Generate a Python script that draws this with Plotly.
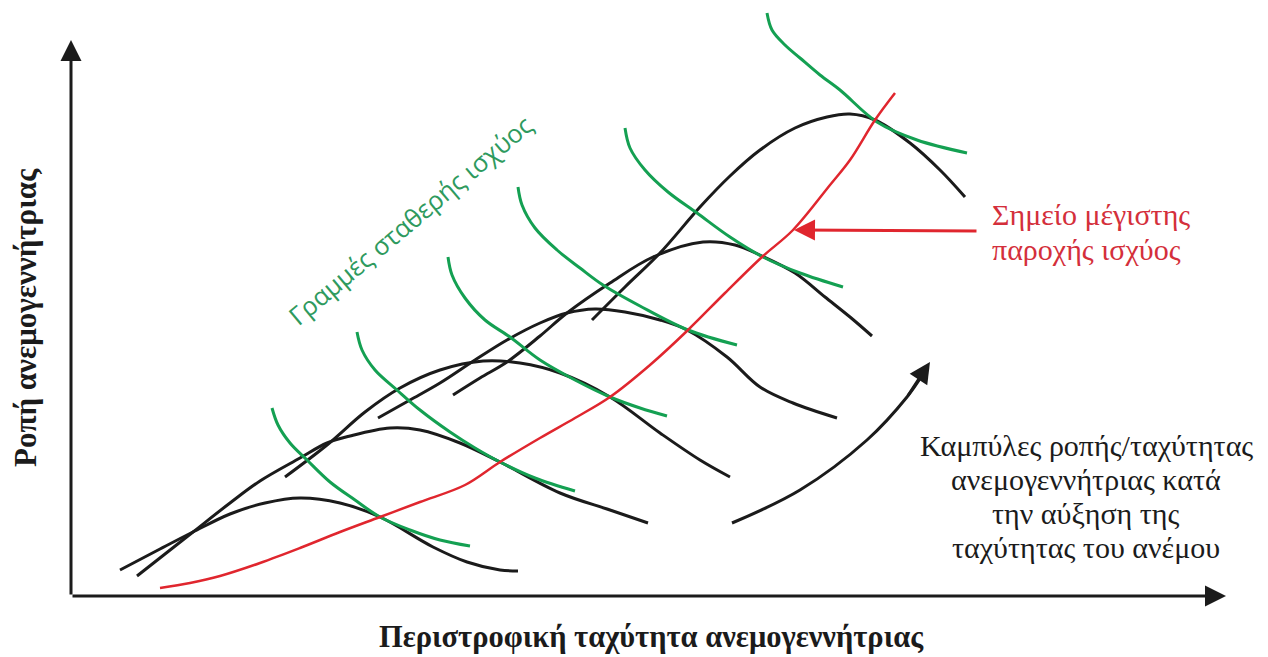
import plotly.graph_objects as go

# torque / speed curves of the turbine for increasing wind speed (black)
curve_a_speed = [49, 89, 122, 159, 194, 229, 269, 309, 362, 396, 429, 447]
curve_a_torque = [26, 47, 64, 82, 93, 98, 93, 79, 49, 34, 26, 25]
curve_b_speed = [66, 122, 159, 189, 229, 256, 279, 319, 349, 389, 429, 489, 539, 577]
curve_b_torque = [20, 64, 93, 115, 138, 153, 160, 168, 166, 153, 134, 103, 86, 73]
curve_c_speed = [214, 256, 294, 329, 369, 412, 449, 489, 539, 589, 629, 659]
curve_c_torque = [119, 151, 184, 208, 226, 235, 233, 223, 199, 163, 136, 119]
curve_d_speed = [307, 339, 369, 404, 436, 469, 496, 524, 554, 589, 616, 656, 689, 722, 766]
curve_d_torque = [178, 196, 213, 236, 256, 273, 283, 287, 284, 276, 266, 239, 209, 193, 178]
curve_e_speed = [382, 409, 436, 469, 496, 539, 582, 632, 664, 691, 724, 754, 779, 801]
curve_e_torque = [201, 218, 234, 260, 283, 313, 339, 354, 351, 340, 323, 299, 279, 260]
curve_f_speed = [521, 554, 589, 629, 659, 689, 724, 756, 779, 804, 839, 869, 894]
curve_f_torque = [276, 309, 343, 389, 420, 446, 468, 479, 482, 476, 453, 426, 399]

# constant power lines (green)
power_1_speed = [201, 207, 219, 236, 259, 284, 309, 339, 369, 399]
power_1_torque = [188, 171, 153, 136, 114, 96, 79, 66, 56, 50]
power_2_speed = [286, 291, 304, 326, 349, 379, 404, 429, 464, 504]
power_2_torque = [264, 246, 226, 206, 186, 164, 148, 134, 118, 105]
power_3_speed = [377, 381, 394, 414, 439, 469, 504, 539, 569, 596]
power_3_torque = [339, 321, 298, 276, 259, 236, 216, 199, 188, 180]
power_4_speed = [447, 451, 464, 486, 509, 532, 569, 617, 666]
power_4_torque = [409, 391, 368, 346, 328, 311, 290, 266, 251]
power_5_speed = [554, 559, 574, 597, 626, 659, 692, 729, 772]
power_5_torque = [468, 448, 426, 404, 383, 359, 339, 323, 309]
power_6_speed = [696, 701, 714, 729, 749, 769, 806, 846, 896]
power_6_torque = [583, 566, 551, 538, 521, 506, 474, 456, 443]

# maximum power point track (red)
mpp_speed = [89, 119, 149, 189, 229, 269, 309, 349, 394, 429, 469, 504, 539,
             579, 617, 654, 691, 722, 759, 779, 804, 824]
mpp_torque = [8, 13, 20, 33, 48, 64, 79, 94, 111, 134, 158, 178, 199,
              231, 266, 303, 339, 366, 411, 436, 476, 503]

# curved arrow: increasing wind speed
wind_speed = [661, 729, 796, 836, 852]
wind_torque = [73, 106, 156, 199, 222]

# text
power_label = "Γραμμές σταθερής ισχύος"
mpp_label = ["Σημείο μέγιστης", "παροχής ισχύος"]
curves_label = ["Καμπύλες ροπής/ταχύτητας", "ανεμογεννήτριας κατά",
                "την αύξηση της", "ταχύτητας του ανέμου"]
x_title = "Περιστροφική ταχύτητα ανεμογεννήτριας"
y_title = "Ροπή ανεμογεννήτριας"

BLACK = "#1b1b1b"
GREEN = "#14a052"
RED = "#e0262e"
SERIF = "Liberation Serif, Times New Roman, serif"

fig = go.Figure()

torque_curves = [
    (curve_a_speed, curve_a_torque),
    (curve_b_speed, curve_b_torque),
    (curve_c_speed, curve_c_torque),
    (curve_d_speed, curve_d_torque),
    (curve_e_speed, curve_e_torque),
    (curve_f_speed, curve_f_torque),
]
for sx, ty in torque_curves:
    fig.add_trace(go.Scatter(x=sx, y=ty, mode="lines",
                             line=dict(color=BLACK, width=3, shape="spline")))

power_lines = [
    (power_1_speed, power_1_torque),
    (power_2_speed, power_2_torque),
    (power_3_speed, power_3_torque),
    (power_4_speed, power_4_torque),
    (power_5_speed, power_5_torque),
    (power_6_speed, power_6_torque),
]
for sx, ty in power_lines:
    fig.add_trace(go.Scatter(x=sx, y=ty, mode="lines",
                             line=dict(color=GREEN, width=3, shape="spline")))

fig.add_trace(go.Scatter(x=mpp_speed, y=mpp_torque, mode="lines",
                         line=dict(color=RED, width=2.5, shape="spline")))

fig.add_trace(go.Scatter(x=wind_speed, y=wind_torque, mode="lines",
                         line=dict(color=BLACK, width=3, shape="spline")))


def arrow(x0, y0, x1, y1, color, width, size):
    fig.add_annotation(x=x1, y=y1, ax=x0, ay=y0, xref="x", yref="y",
                       axref="x", ayref="y", text="", showarrow=True,
                       arrowhead=2, arrowsize=size, arrowwidth=width,
                       arrowcolor=color, standoff=0)


# axes with arrow heads
arrow(0, 0, 0, 556, BLACK, 3, 1.4)
arrow(0, 0, 1155, 0, BLACK, 3, 1.4)
# pointer to the maximum power point track
arrow(907, 365, 723, 366, RED, 3, 1.4)
# head of the wind speed arrow
arrow(wind_speed[-2], wind_torque[-2], 859, 234, BLACK, 3, 1.4)

fig.add_annotation(x=339, y=376, xref="x", yref="y", showarrow=False,
                   text=power_label, textangle=-40,
                   font=dict(family="Open Sans, sans-serif", size=25.5, color="#2e9a5e"))

for i, line in enumerate(mpp_label):
    fig.add_annotation(x=919, y=382 - 35 * i, xref="x", yref="y", showarrow=False,
                       xanchor="left", text=line,
                       font=dict(family=SERIF, size=30, color="#d42f3b"))

for i, line in enumerate(curves_label):
    fig.add_annotation(x=1015, y=151 - 34.3 * i, xref="x", yref="y", showarrow=False,
                       text=line, font=dict(family=SERIF, size=30, color=BLACK))

fig.add_annotation(x=580, y=-41, xref="x", yref="y", showarrow=False,
                   text="<b>" + x_title + "</b>",
                   font=dict(family=SERIF, size=30.5, color=BLACK))
fig.add_annotation(x=-46, y=278, xref="x", yref="y", showarrow=False,
                   text="<b>" + y_title + "</b>", textangle=-90,
                   font=dict(family=SERIF, size=31, color=BLACK))

fig.update_layout(
    width=1268,
    height=657,
    margin=dict(l=0, r=0, t=0, b=0),
    paper_bgcolor="white",
    plot_bgcolor="white",
    showlegend=False,
    hovermode=False,
    xaxis=dict(range=[-71, 1197], visible=False, fixedrange=True),
    yaxis=dict(range=[-61, 596], visible=False, fixedrange=True),
)

fig.write_html("out.html", config={"displayModeBar": False},
               post_script="document.body.style.margin='0';")
